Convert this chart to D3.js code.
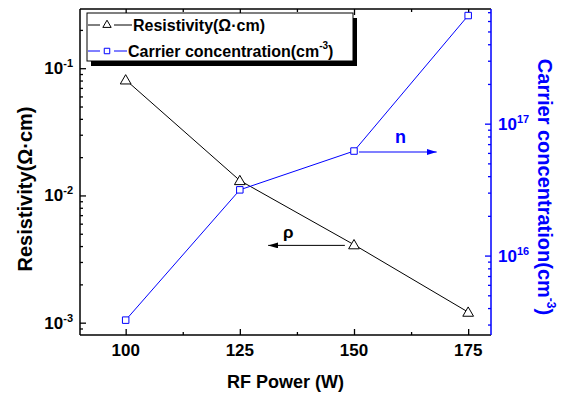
<!DOCTYPE html>
<html>
<head>
<meta charset="utf-8">
<script src="https://cdn.jsdelivr.net/npm/d3@7"></script>
<style>
  body { margin: 0; background: #fff; }
  svg { font-family: "Liberation Sans", Arial, sans-serif; font-weight: bold; }
</style>
</head>
<body>
<svg id="chart" width="561" height="397"></svg>
<script>
// data
const power = [100, 125, 150, 175];
const resistivity = [0.081, 0.0131, 0.0041, 0.00121];
const carrier = [3.24e15, 3.15e16, 6.2e16, 6.6e17];

const xTicks = [100, 125, 150, 175];
const xMinor = [112.5, 137.5, 162.5];
const leftTicks = [1e-3, 1e-2, 1e-1];
const leftMinor = [9e-4, 2e-3, 3e-3, 4e-3, 5e-3, 6e-3, 7e-3, 8e-3, 9e-3,
                   2e-2, 3e-2, 4e-2, 5e-2, 6e-2, 7e-2, 8e-2, 9e-2, 2e-1];
const rightTicks = [1e16, 1e17];
const rightMinor = [3e15, 4e15, 5e15, 6e15, 7e15, 8e15, 9e15,
                    2e16, 3e16, 4e16, 5e16, 6e16, 7e16, 8e16, 9e16,
                    2e17, 3e17, 4e17, 5e17, 6e17, 7e17];

const blue = "#0000ff";
const margin = {top: 9, right: 70, bottom: 62, left: 80},
      width = 561 - margin.left - margin.right,
      height = 397 - margin.top - margin.bottom;

const svg = d3.select("#chart").append("g").attr("transform", `translate(${margin.left},${margin.top})`);

const x = d3.scaleLinear().domain([90, 180]).range([0, width]);
const yL = d3.scaleLog().domain([8e-4, 0.292]).range([height, 0]);
const yR = d3.scaleLog().domain([2.5e15, 7.4e17]).range([height, 0]);

// ticks (inward)
function ticks(axis, g, color) {
    g.call(axis).call(s => s.select(".domain").remove());
    g.selectAll("line").attr("stroke", color).attr("stroke-width", 1.3);
    g.selectAll("text").remove();
}
ticks(d3.axisBottom(x).tickValues(xTicks).tickSize(-6), svg.append("g").attr("transform", `translate(0,${height})`), "#000");
ticks(d3.axisBottom(x).tickValues(xMinor).tickSize(-3), svg.append("g").attr("transform", `translate(0,${height})`), "#000");
ticks(d3.axisTop(x).tickValues(xTicks).tickSize(-6), svg.append("g"), "#000");
ticks(d3.axisTop(x).tickValues(xMinor).tickSize(-3), svg.append("g"), "#000");
ticks(d3.axisLeft(yL).tickValues(leftTicks).tickSize(-6), svg.append("g"), "#000");
ticks(d3.axisLeft(yL).tickValues(leftMinor).tickSize(-3), svg.append("g"), "#000");
ticks(d3.axisRight(yR).tickValues(rightTicks).tickSize(-6), svg.append("g").attr("transform", `translate(${width},0)`), blue);
ticks(d3.axisRight(yR).tickValues(rightMinor).tickSize(-3), svg.append("g").attr("transform", `translate(${width},0)`), blue);

// frame
svg.append("line").attr("x1", 0).attr("x2", width).attr("y1", 0).attr("y2", 0).attr("stroke", "#000").attr("stroke-width", 1.5);
svg.append("line").attr("x1", 0).attr("x2", width).attr("y1", height).attr("y2", height).attr("stroke", "#000").attr("stroke-width", 1.5);
svg.append("line").attr("x1", 0).attr("x2", 0).attr("y1", 0).attr("y2", height).attr("stroke", "#000").attr("stroke-width", 1.5);
svg.append("line").attr("x1", width).attr("x2", width).attr("y1", 0).attr("y2", height).attr("stroke", blue).attr("stroke-width", 1.5);

// tick labels
svg.selectAll(".xlab").data(xTicks).enter().append("text")
    .attr("x", d => x(d)).attr("y", height + 21)
    .attr("text-anchor", "middle").attr("font-size", 17).text(d => d);

const expo = v => Math.round(Math.log10(v));
const leftLab = svg.selectAll(".ylab").data(leftTicks).enter().append("text")
    .attr("x", -7).attr("y", d => yL(d) + 6)
    .attr("text-anchor", "end").attr("font-size", 17);
leftLab.append("tspan").text("10");
leftLab.append("tspan").attr("font-size", 11).attr("dy", -7).text(d => expo(d));

const rightLab = svg.selectAll(".rlab").data(rightTicks).enter().append("text")
    .attr("x", width + 7).attr("y", d => yR(d) + 6)
    .attr("font-size", 17).attr("fill", blue);
rightLab.append("tspan").text("10");
rightLab.append("tspan").attr("font-size", 11).attr("dy", -7).text(d => expo(d));

// axis titles
svg.append("text")
    .attr("x", x(135)).attr("y", height + 53)
    .attr("text-anchor", "middle").attr("font-size", 18)
    .text("RF Power (W)");

svg.append("text")
    .attr("transform", `translate(${-48},${height / 2 + 17}) rotate(-90)`)
    .attr("text-anchor", "middle").attr("font-size", 20)
    .text("Resistivity(Ω·cm)");

const rt = svg.append("text")
    .attr("transform", `translate(${width + 47},${height / 2 + 15}) rotate(90)`)
    .attr("text-anchor", "middle").attr("font-size", 20).attr("fill", blue);
rt.append("tspan").text("Carrier concentration(cm");
rt.append("tspan").attr("font-size", 12).attr("dy", -9).text("-3");
rt.append("tspan").attr("dy", 9).text(")");

// series
const tri = d3.symbol().type(d3.symbolTriangle).size(50);
const sq = d3.symbol().type(d3.symbolSquare).size(42);

svg.append("path")
    .datum(power.map((p, i) => [p, resistivity[i]]))
    .attr("fill", "none").attr("stroke", "#000").attr("stroke-width", 1)
    .attr("d", d3.line().x(d => x(d[0])).y(d => yL(d[1])));

svg.append("path")
    .datum(power.map((p, i) => [p, carrier[i]]))
    .attr("fill", "none").attr("stroke", blue).attr("stroke-width", 1)
    .attr("d", d3.line().x(d => x(d[0])).y(d => yR(d[1])));

svg.selectAll(".tri").data(power).enter().append("path")
    .attr("transform", (d, i) => `translate(${x(d)},${yL(resistivity[i]) + 1})`)
    .attr("d", tri).attr("fill", "#fff").attr("stroke", "#000").attr("stroke-width", 1);

svg.selectAll(".sq").data(power).enter().append("path")
    .attr("transform", (d, i) => `translate(${x(d)},${yR(carrier[i])})`)
    .attr("d", sq).attr("fill", "#fff").attr("stroke", blue).attr("stroke-width", 1);

// annotation arrows
const defs = d3.select("#chart").append("defs");
[["headK", "#000"], ["headB", blue]].forEach(([id, c]) => {
    defs.append("marker").attr("id", id).attr("viewBox", "0 0 10 6")
        .attr("refX", 10).attr("refY", 3).attr("markerWidth", 10).attr("markerHeight", 6)
        .attr("markerUnits", "userSpaceOnUse").attr("orient", "auto")
        .append("path").attr("d", "M0,0L10,3L0,6Z").attr("fill", c);
});

svg.append("line")
    .attr("x1", x(148)).attr("x2", x(131.2))
    .attr("y1", yL(0.00405)).attr("y2", yL(0.00405))
    .attr("stroke", "#000").attr("stroke-width", 1).attr("marker-end", "url(#headK)");
svg.append("text").attr("x", x(135.6)).attr("y", yL(0.00405) - 7)
    .attr("text-anchor", "middle").attr("font-size", 17).text("ρ");

svg.append("line")
    .attr("x1", x(151.1)).attr("x2", x(168.1))
    .attr("y1", yR(6.1e16)).attr("y2", yR(6.1e16))
    .attr("stroke", blue).attr("stroke-width", 1.2).attr("marker-end", "url(#headB)");
svg.append("text").attr("x", x(160.2)).attr("y", yR(6.1e16) - 9)
    .attr("text-anchor", "middle").attr("font-size", 18).attr("fill", blue).text("n");

// legend with drop shadow
const legend = svg.append("g").attr("transform", "translate(7,4)");
legend.append("rect").attr("x", 4).attr("y", 5).attr("width", 266).attr("height", 48).attr("fill", "#000");
legend.append("rect").attr("x", 0).attr("y", 0).attr("width", 266).attr("height", 48)
    .attr("fill", "#fff").attr("stroke", "#000").attr("stroke-width", 1);

const legItems = [
    {label: "Resistivity(Ω·cm)", color: "#000", sym: tri, textX: 46},
    {label: "Carrier concentration(cm", sup: "-3", color: blue, sym: sq, textX: 41}
];
legItems.forEach((d, i) => {
    const cy = 12 + i * 26;
    const row = legend.append("g");
    row.append("line").attr("x1", 1).attr("x2", 13).attr("y1", cy).attr("y2", cy).attr("stroke", d.color);
    row.append("line").attr("x1", 27).attr("x2", d.textX - 1).attr("y1", cy).attr("y2", cy).attr("stroke", d.color);
    row.append("path").attr("transform", `translate(20,${cy})`).attr("d", d.sym.size(30))
        .attr("fill", "#fff").attr("stroke", d.color);
    const t = row.append("text").attr("x", d.textX).attr("y", cy + 6).attr("font-size", 16).text(d.label);
    if (d.sup) {
        t.append("tspan").attr("font-size", 10).attr("dy", -8).text(d.sup);
        t.append("tspan").attr("dy", 8).text(")");
    }
});
</script>
</body>
</html>
